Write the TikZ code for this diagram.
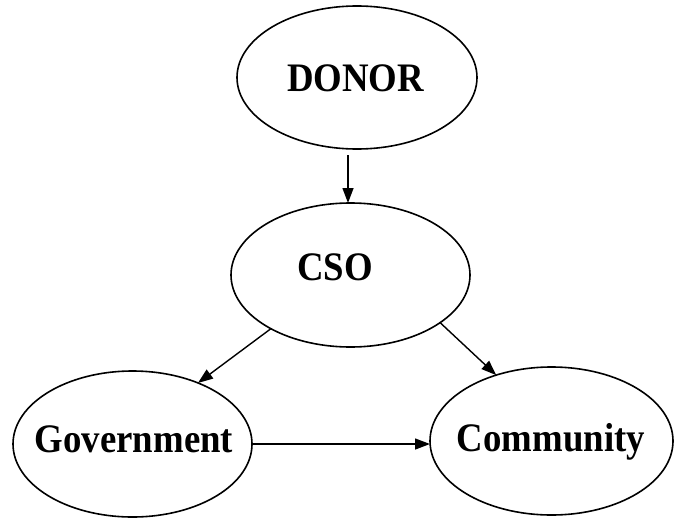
\documentclass[tikz,border=0pt]{standalone}
\usepackage{fontspec}
\setmainfont{Liberation Serif}
\usetikzlibrary{shapes.geometric,arrows.meta,calc}
\begin{document}
\begin{tikzpicture}[x=1pt,y=-1pt,
  oval/.style={ellipse,draw,line width=1.6pt,inner sep=0pt,outer sep=0pt},
  lbl/.style={anchor=base,inner sep=0pt,font=\fontsize{36.8}{40}\selectfont\bfseries},
  arr/.style={line width=1.4pt,-{Triangle[length=15pt,width=11pt]}}]
\useasboundingbox (0,0) rectangle (679,519);
% ellipses
\node[oval,minimum width=240pt,minimum height=143pt] (donor) at (357,77.5) {};
\node[oval,minimum width=239pt,minimum height=144pt] (cso) at (350.5,275) {};
\node[oval,minimum width=239pt,minimum height=146pt] (gov) at (132.5,444) {};
\node[oval,minimum width=243pt,minimum height=148pt] (comm) at (551.5,441) {};
% labels
\node[lbl] (donortxt) at (355.5,91) {\scalebox{1}[1.1]{DONOR}};
\node[lbl] (csotxt) at (335,280) {\scalebox{1}[1.1]{CSO}};
\node[lbl] (govtxt) at (134,452) {\scalebox{1}[1.1]{Government}};
\node[lbl] (commtxt) at (551,451) {\scalebox{1}[1.1]{Community}};
% connectors
\draw[arr] ([xshift=-9pt,yshift=-6pt]donor.south) -- ([xshift=-2.5pt]cso.north);
\draw[arr] (cso.214.5) -- (gov.43.4);
\draw[arr] (cso.332.8) -- (comm.130);
\draw[arr] (gov.east) -- (gov.east -| comm.west);
\end{tikzpicture}
\end{document}
